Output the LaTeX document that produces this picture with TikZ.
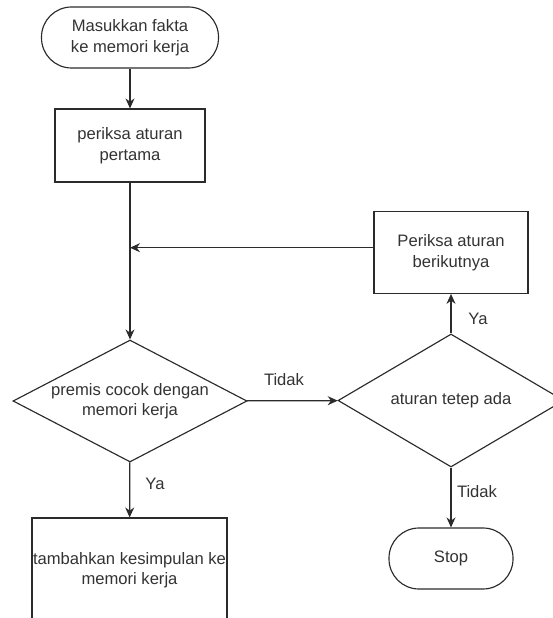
\documentclass[tikz,border=0pt]{standalone}
\usepackage{fontspec}
\setmainfont{Liberation Sans}
\usepackage{tikz}
\usetikzlibrary{arrows.meta,shapes.geometric}
\definecolor{ink}{HTML}{2B2B2B}
\definecolor{txt}{HTML}{333333}
\tikzset{
  base/.style={draw=ink,line width=1.15pt,text=txt,font=\fontsize{16.6}{20.5}\selectfont,align=center,inner sep=0pt},
  terminal/.style={base,rectangle,rounded corners=30pt},
  procbox/.style={base,rectangle},
  decision/.style={base,diamond},
  flow/.style={draw=ink,line width=1.15pt,-{Stealth[length=10pt,width=9pt]}},
  lbl/.style={text=txt,font=\fontsize{16.6}{20.5}\selectfont,inner sep=0pt}
}

\begin{document}
\begin{tikzpicture}[x=1pt,y=-1pt]
  \useasboundingbox (0,0) rectangle (553,618);
  \clip (0,0) rectangle (553,618);

  % main column
  \node[terminal,minimum width=177pt,minimum height=61pt] (start) at (130,37.5) {Masukkan fakta\\ke memori kerja};
  \node[procbox,minimum width=150pt,minimum height=73pt] (first) at (130,145.5) {periksa aturan\\pertama};
  \node[decision,aspect=1.92,minimum width=234pt,minimum height=122pt] (match) at (130,401) {premis cocok dengan\\memori kerja};
  \node[procbox,minimum width=195pt,minimum height=104pt] (add) at (129.5,570) {tambahkan kesimpulan ke\\memori kerja};

  % right column
  \node[procbox,minimum width=154pt,minimum height=81.6pt] (next) at (451,252.5) {Periksa aturan\\berikutnya};
  \node[decision,aspect=1.7,minimum width=226pt,minimum height=133pt] (left) at (451,400.5) {aturan tetep ada};
  \node[terminal,minimum width=124pt,minimum height=61pt] (stop) at (451,558.5) {Stop};

  \coordinate (join) at (130,247.7);

  % connectors
  \draw[flow] (start) -- (first);
  \draw[flow] (first) -- (match);
  \draw[flow] (join -| next.west) -- (join);
  \draw[flow] (match) -- (add);
  \draw[flow] (match) -- (left);
  \draw[flow] (left) -- (next);
  \draw[flow] (left) -- (stop);

  % labels
  \node[lbl] (ya1) at (155,484) {Ya};
  \node[lbl] (tidak1) at (284,380) {Tidak};
  \node[lbl] (ya2) at (478,319) {Ya};
  \node[lbl] (tidak2) at (477,492) {Tidak};
\end{tikzpicture}
\end{document}
